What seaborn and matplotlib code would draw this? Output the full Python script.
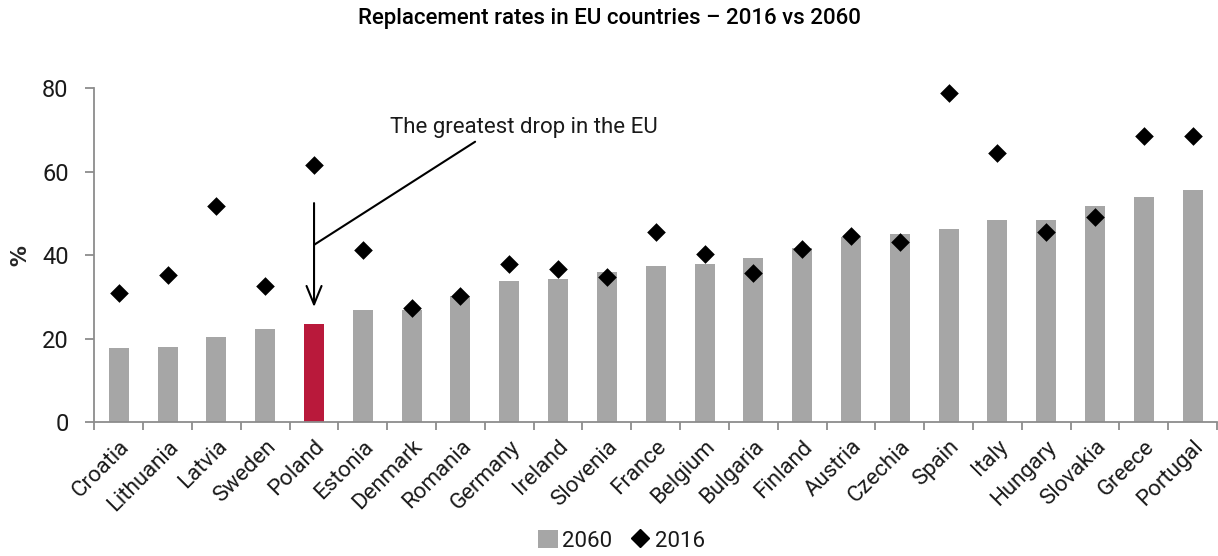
import numpy as np
import pandas as pd
import matplotlib
matplotlib.use("Agg")
import matplotlib.pyplot as plt
import seaborn as sns
from matplotlib.patches import Patch
from matplotlib.lines import Line2D

countries = ["Croatia", "Lithuania", "Latvia", "Sweden", "Poland", "Estonia", "Denmark",
             "Romania", "Germany", "Ireland", "Slovenia", "France", "Belgium", "Bulgaria",
             "Finland", "Austria", "Czechia", "Spain", "Italy", "Hungary", "Slovakia",
             "Greece", "Portugal"]
rate_2060 = [17.8, 18.1, 20.4, 22.3, 23.5, 26.9, 27.0, 30.2, 33.8, 34.4, 35.9, 37.5, 37.8,
             39.4, 41.7, 44.4, 45.0, 46.3, 48.5, 48.5, 51.9, 53.9, 55.7]
rate_2016 = [30.9, 35.3, 51.8, 32.7, 61.6, 41.3, 27.3, 30.3, 38.0, 36.8, 34.8, 45.5, 40.3,
             35.8, 41.4, 44.6, 43.2, 78.9, 64.5, 45.6, 49.2, 68.5, 68.5]
yticks = [0, 20, 40, 60, 80]
highlight = "Poland"

sns.set_style("white")
plt.rcParams['font.family'] = ['Roboto', 'DejaVu Sans']

GRAY = "#a6a6a6"
RED = "#b9193b"
AXC = "#8c8c8c"
TXT = "#1a1a1a"

df = pd.DataFrame({"country": countries, "y2060": rate_2060, "y2016": rate_2016})
palette = {c: (RED if c == highlight else GRAY) for c in countries}

fig = plt.figure(figsize=(12.18, 5.56), dpi=100)
ax = fig.add_axes([0.0775, 0.2405, 0.9217, 0.6007])

sns.barplot(data=df, x="country", y="y2060", hue="country", palette=palette,
            width=0.41, legend=False, ax=ax, saturation=1, linewidth=0)
sns.stripplot(data=df, x="country", y="y2016", color="black", marker="D", size=9.5,
              jitter=False, ax=ax, linewidth=0, zorder=5)
for coll in ax.collections:
    coll.set_clip_on(False)

ax.set_xlim(-0.5, len(countries) - 0.5)
ax.set_ylim(0, 80)
ax.set_yticks(yticks)
ax.set_xlabel("")
ax.set_ylabel("%", fontsize=15, fontweight="bold", labelpad=8, family=['DejaVu Sans'])

for s in ["top", "right"]:
    ax.spines[s].set_visible(False)
for s in ["left", "bottom"]:
    ax.spines[s].set_color(AXC)
    ax.spines[s].set_linewidth(1.3)

ax.tick_params(axis="y", which="major", direction="out", length=6.5, width=1.3,
               color=AXC, labelsize=17, pad=12, left=True, labelcolor=TXT)
ax.set_xticks(range(len(countries)))
ax.set_xticklabels(countries, rotation=45, ha="right", rotation_mode="anchor")
ax.tick_params(axis="x", which="major", length=0, labelsize=16, pad=10, labelcolor=TXT)
ax.set_xticks(np.arange(-0.5, len(countries), 1.0), minor=True)
ax.tick_params(axis="x", which="minor", direction="out", length=6, width=1.3,
               color=AXC, bottom=True)

# annotation
pi = countries.index(highlight)
ax.annotate("", xy=(pi, 27.6), xytext=(pi, 52.5),
            arrowprops=dict(arrowstyle="->,head_length=1.1,head_width=0.45",
                            lw=1.5, color="black", shrinkA=0, shrinkB=0,
                            mutation_scale=12))
ax.annotate("", xy=(pi, 42.5), xytext=(pi + 3.3, 67.2),
            arrowprops=dict(arrowstyle="-", lw=1.5, color="black", shrinkA=0, shrinkB=0))
ax.text(pi + 4.3, 70.5, "The greatest drop in the EU", fontsize=16, ha="center",
        va="center", color=TXT)

fig.suptitle("Replacement rates in EU countries – 2016 vs 2060", x=0.5, y=0.985,
             fontsize=16, va="top", color="black", fontweight="medium")

handles = [Patch(facecolor=GRAY, edgecolor="none", label="2060"),
           Line2D([], [], marker="D", color="black", linestyle="none", markersize=9, label="2016")]
leg = fig.legend(handles=handles, loc="center", bbox_to_anchor=(0.51, 0.027), ncol=2,
                 frameon=False, fontsize=16, handlelength=0.9, handletextpad=0.2,
                 columnspacing=0.8, handleheight=0.9)
for t in leg.get_texts():
    t.set_color(TXT)

fig.savefig("out.png", dpi=100)
